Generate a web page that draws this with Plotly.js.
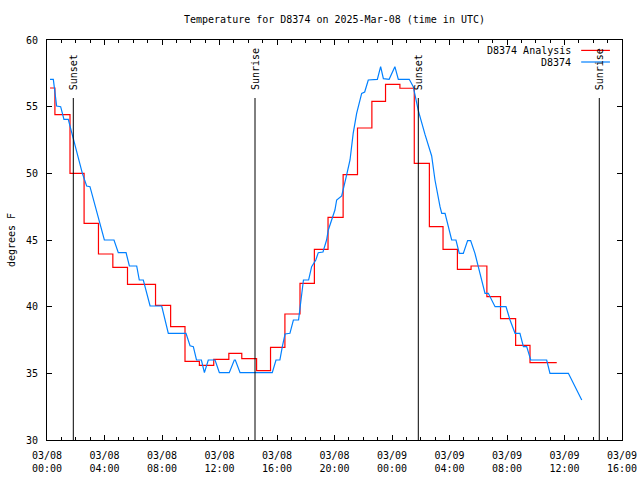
<!DOCTYPE html>
<html><head><meta charset="utf-8">
<script src="https://cdn.plot.ly/plotly-3.0.1.min.js"></script>
<style>html,body{margin:0;padding:0;background:#fff}</style>
</head><body><div id="chart" style="width:640px;height:480px"></div>
<script>
// hours since 2025-03-08 00:00 UTC
const baseDate = Date.UTC(2025, 2, 8, 0, 0);

const analysisName = 'D8374 Analysis';
const analysisHours = [0.21, 0.55, 1.6, 2.58, 3.58, 4.58, 5.6, 7.55, 8.6, 9.6, 10.6, 11.6, 12.65, 13.55, 14.58, 15.55, 16.55, 17.6, 18.6, 19.55, 20.6, 21.6, 22.6, 23.55, 24.55, 25.55, 26.6, 27.55, 28.55, 29.5, 30.6, 31.55, 32.6, 33.6, 35.46];
const analysisTemps = [56.4, 54.4, 50.0, 46.25, 43.95, 42.95, 41.67, 40.1, 38.5, 35.9, 35.6, 36.05, 36.5, 36.1, 35.2, 36.95, 39.45, 41.75, 44.3, 46.7, 49.9, 53.4, 55.4, 56.67, 56.38, 50.75, 46.0, 44.3, 42.8, 43.05, 40.75, 39.1, 37.1, 35.8, 35.8];

const obsName = 'D8374';
const obsHours = [0.21, 0.44, 0.67, 0.95, 1.18, 1.48, 2.46, 2.76, 2.99, 3.99, 4.66, 4.96, 5.5, 5.73, 6.24, 6.42, 6.7, 7.17, 7.98, 8.44, 9.67, 9.95, 10.18, 10.4, 10.74, 10.95, 11.22, 11.69, 11.99, 12.68, 13.03, 13.1, 13.43, 15.67, 15.93, 16.2, 16.37, 16.56, 16.9, 17.14, 17.5, 17.72, 17.84, 18.2, 18.41, 18.7, 18.87, 19.2, 19.45, 19.57, 19.8, 20.03, 20.15, 20.5, 20.85, 21.08, 21.3, 21.54, 21.89, 22.1, 22.35, 22.98, 23.21, 23.4, 23.8, 24.2, 24.44, 25.2, 25.48, 25.83, 26.3, 26.76, 26.99, 27.22, 27.34, 27.46, 27.69, 28.15, 28.45, 28.68, 28.96, 29.26, 29.47, 29.77, 30.12, 30.47, 30.7, 31.17, 31.93, 32.21, 32.56, 32.9, 33.14, 33.37, 33.65, 34.76, 34.99, 36.27, 37.2];
const obsTemps = [57.05, 57.05, 55.05, 55.0, 54.05, 54.05, 50.0, 49.05, 49.0, 45.0, 45.0, 44.05, 44.05, 43.05, 43.05, 42.0, 42.0, 40.05, 40.05, 38.0, 38.0, 37.07, 37.0, 36.0, 36.0, 35.05, 36.0, 36.0, 35.05, 35.05, 36.0, 36.0, 35.05, 35.05, 36.0, 36.0, 37.0, 37.95, 38.0, 39.0, 39.0, 41.25, 42.0, 42.0, 43.0, 43.5, 44.05, 44.1, 45.0, 45.75, 46.5, 47.25, 48.0, 48.3, 49.9, 51.0, 53.0, 54.5, 56.0, 56.1, 57.0, 57.05, 58.0, 57.1, 57.05, 58.0, 57.05, 57.05, 56.5, 54.7, 52.9, 51.3, 49.5, 48.0, 47.5, 47.0, 47.0, 45.0, 45.0, 44.0, 44.0, 44.95, 44.95, 44.0, 42.5, 41.0, 41.0, 40.0, 40.0, 39.0, 38.0, 38.0, 37.0, 37.0, 36.0, 36.0, 35.0, 35.0, 33.0];

const sunHours = [1.83, 14.47, 25.83, 38.42];
const sunLabels = ['Sunset', 'Sunrise', 'Sunset', 'Sunrise'];

const tickHours = [0, 4, 8, 12, 16, 20, 24, 28, 32, 36, 40];
const tickLabels = ['03/08<br>00:00', '03/08<br>04:00', '03/08<br>08:00', '03/08<br>12:00', '03/08<br>16:00', '03/08<br>20:00', '03/09<br>00:00', '03/09<br>04:00', '03/09<br>08:00', '03/09<br>12:00', '03/09<br>16:00'];

function toTime(h) {
  const d = new Date(baseDate + Math.round(h * 3600000));
  return d.toISOString().slice(0, 19).replace('T', ' ');
}

const FONT = {family: 'DejaVu Sans Mono, monospace', size: 10, color: '#000'};
const RED = 'rgb(255,0,0)';
const BLUE = 'rgb(0,128,255)';

const traces = [
  {x: analysisHours.map(toTime), y: analysisTemps, name: analysisName, type: 'scatter', mode: 'lines',
   line: {color: RED, width: 1.2, shape: 'hv'}},
  {x: obsHours.map(toTime), y: obsTemps, name: obsName, type: 'scatter', mode: 'lines',
   line: {color: BLUE, width: 1.2}}
];

const shapes = [];
const annotations = [];
sunHours.forEach((h, i) => {
  shapes.push({type: 'line', xref: 'x', yref: 'paper', x0: toTime(h), x1: toTime(h), y0: 0, y1: 0.855,
               line: {color: '#000', width: 1}});
  annotations.push({text: sunLabels[i], xref: 'x', yref: 'paper', x: toTime(h), y: 0.87,
                    xanchor: 'center', yanchor: 'bottom', textangle: -90, showarrow: false, font: FONT});
});
// gnuplot-style key (text left of sample line)
[[analysisName, RED, 0.974], [obsName, BLUE, 0.945]].forEach(([name, col, yy]) => {
  annotations.push({text: name, xref: 'paper', yref: 'paper', x: 0.915, y: yy, xanchor: 'right', yanchor: 'middle',
                    showarrow: false, font: FONT});
  shapes.push({type: 'line', xref: 'paper', yref: 'paper', x0: 0.929, x1: 0.979, y0: yy, y1: yy,
               line: {color: col, width: 1.2}});
});

const layout = {
  width: 640, height: 480,
  margin: {l: 47, r: 18, t: 40, b: 40, pad: 0},
  paper_bgcolor: '#fff', plot_bgcolor: '#fff',
  showlegend: false,
  font: FONT,
  title: {text: 'Temperature for D8374 on 2025-Mar-08 (time in UTC)', font: FONT,
          x: 0.5, xref: 'paper', xanchor: 'center', y: 1 - 19 / 480, yref: 'container', yanchor: 'middle'},
  xaxis: {type: 'date', range: [toTime(0), toTime(40)], tickmode: 'array',
          tickvals: tickHours.map(toTime), ticktext: tickLabels,
          ticks: 'inside', ticklen: 5, tickcolor: '#000', tickwidth: 1,
          minor: {tickmode: 'linear', tick0: toTime(0), dtick: 3600000, ticks: 'inside', ticklen: 3, tickcolor: '#000', showgrid: false},
          showline: true, linecolor: '#000', linewidth: 1, mirror: 'allticks',
          showgrid: false, zeroline: false, tickfont: FONT, ticklabelstandoff: 6, fixedrange: true},
  yaxis: {range: [30, 60], tickmode: 'linear', tick0: 30, dtick: 5,
          ticks: 'inside', ticklen: 5, tickcolor: '#000', tickwidth: 1,
          showline: true, linecolor: '#000', linewidth: 1, mirror: 'allticks',
          showgrid: false, zeroline: false, tickfont: FONT, ticklabelstandoff: 6,
          title: {text: 'degrees F', font: FONT, standoff: 8}, automargin: false},
  shapes: shapes,
  annotations: annotations
};

Plotly.newPlot('chart', traces, layout, {staticPlot: true, displayModeBar: false});
</script>
</body></html>
